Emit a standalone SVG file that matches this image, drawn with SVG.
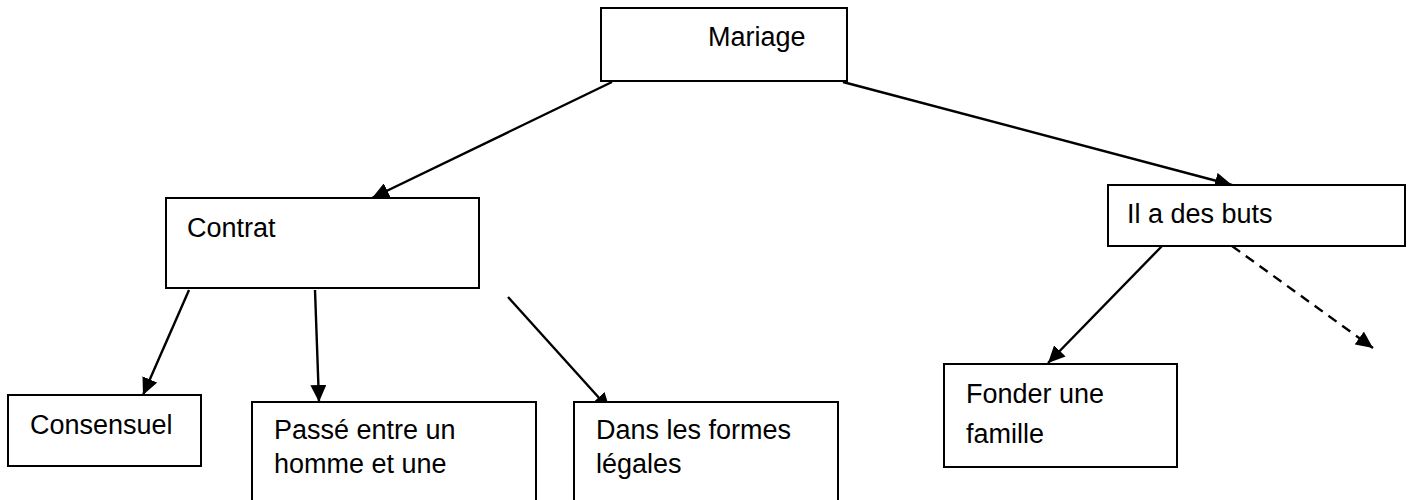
<svg xmlns="http://www.w3.org/2000/svg" width="1410" height="500" viewBox="0 0 1410 500">
  <style>
    .box { fill: #ffffff; stroke: #000000; stroke-width: 2; }
    .label { font-family: "Liberation Sans", Arial, sans-serif; font-size: 27px; fill: #000000; }
    .link { fill: none; stroke: #000000; stroke-width: 2.4; marker-end: url(#arrow); }
    .dashed { stroke-dasharray: 10 7; }
  </style>
  <defs>
    <marker id="arrow" markerUnits="userSpaceOnUse" markerWidth="18" markerHeight="16" refX="17" refY="8" orient="auto">
      <path d="M0,0 L17,8 L0,16 z" fill="#000000"/>
    </marker>
  </defs>
  <rect width="1410" height="500" fill="#ffffff"/>

  <!-- connectors -->
  <g id="connectors">
    <line class="link" x1="612" y1="82" x2="372" y2="198"/>
    <line class="link" x1="843" y1="82" x2="1232" y2="185"/>
    <line class="link" x1="189" y1="290" x2="143" y2="395"/>
    <line class="link" x1="315" y1="290" x2="319" y2="402"/>
    <line class="link" x1="508" y1="297" x2="610" y2="410"/>
    <line class="link" x1="1163" y1="245" x2="1048" y2="363"/>
    <line class="link dashed" x1="1232" y1="246" x2="1373" y2="348"/>
  </g>

  <!-- nodes -->
  <g id="mariage">
    <rect class="box" x="601" y="8" width="246" height="73"/>
    <text class="label" x="708" y="46">Mariage</text>
  </g>
  <g id="contrat">
    <rect class="box" x="166" y="198" width="313" height="90"/>
    <text class="label" x="187" y="237">Contrat</text>
  </g>
  <g id="buts">
    <rect class="box" x="1108" y="185" width="297" height="61"/>
    <text class="label" x="1127" y="223">Il a des buts</text>
  </g>
  <g id="consensuel">
    <rect class="box" x="8" y="395" width="193" height="71"/>
    <text class="label" x="30" y="434">Consensuel</text>
  </g>
  <g id="passe">
    <rect class="box" x="252" y="402" width="284" height="110"/>
    <text class="label" x="274" y="439">Passé entre un</text>
    <text class="label" x="274" y="473">homme et une</text>
  </g>
  <g id="formes">
    <rect class="box" x="574" y="402" width="264" height="110"/>
    <text class="label" x="596" y="439">Dans les formes</text>
    <text class="label" x="596" y="473">légales</text>
  </g>
  <g id="famille">
    <rect class="box" x="944" y="364" width="233" height="103"/>
    <text class="label" x="966" y="403">Fonder une</text>
    <text class="label" x="966" y="443">famille</text>
  </g>
</svg>
